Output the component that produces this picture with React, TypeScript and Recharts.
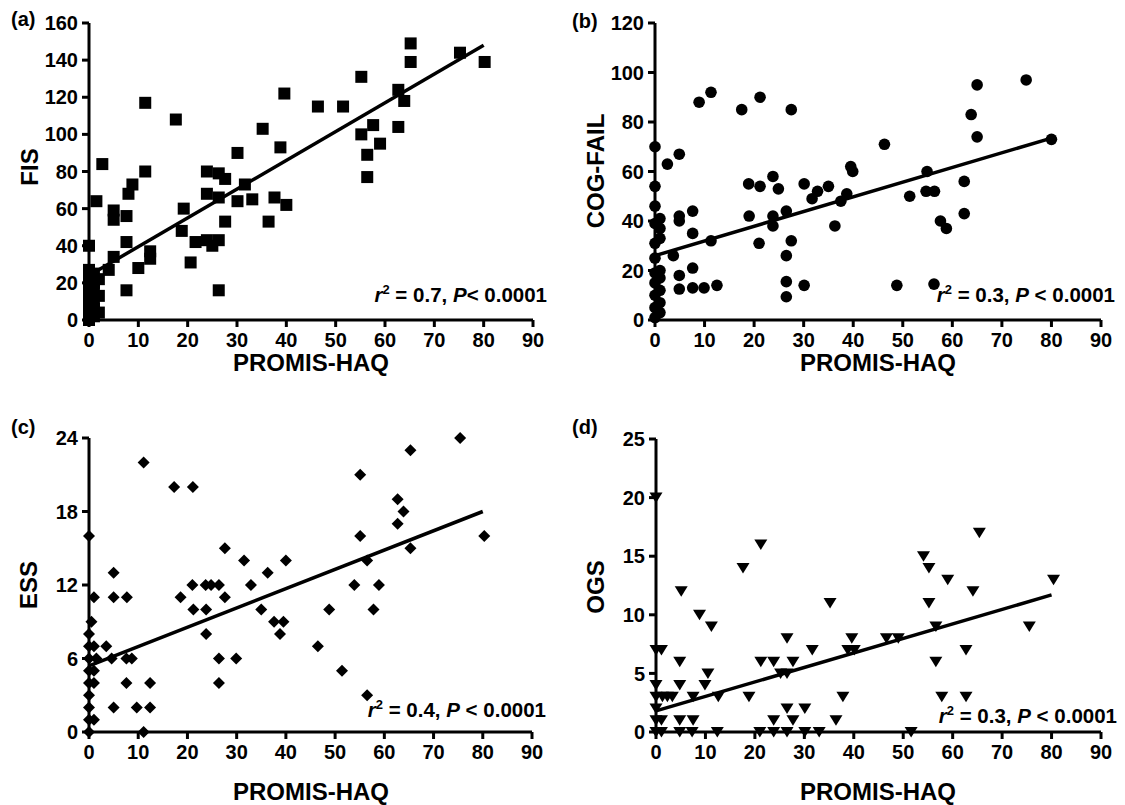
import React from 'react'
import { ScatterChart, Scatter, XAxis, YAxis, ReferenceLine } from 'recharts'

// PROMIS-HAQ (x) vs each outcome (y)
const xTicks = [0, 10, 20, 30, 40, 50, 60, 70, 80, 90]

const fisPoints = [
  [0, 40], [0, 27], [0, 24], [0, 21], [0, 18], [0, 15], [0, 12], [0, 9], [0, 6], [0, 3], [0, 0],
  [1, 25], [1, 20], [1, 16], [1, 10], [1, 6], [1, 2], [2, 22], [2, 13], [2, 4],
  [1.5, 64], [2.7, 84], [4, 27], [5, 34], [5, 59], [5, 54], [7.6, 56], [7.6, 42], [7.6, 16], [8, 68],
  [8.8, 73], [10, 28], [11.4, 117], [11.4, 80], [12.4, 37], [12.4, 33], [17.6, 108], [19.2, 60],
  [18.8, 48], [20.6, 31], [21.6, 42], [23.9, 43], [23.9, 80], [23.9, 68], [25, 40], [26.3, 43],
  [26.3, 79], [26.3, 66], [26.3, 16], [27.6, 76], [27.6, 53], [30.1, 90], [30.1, 64], [31.6, 73],
  [33.1, 65], [35.2, 103], [37.6, 66], [36.4, 53], [38.8, 93], [39.6, 122], [40, 62], [46.4, 115],
  [51.5, 115], [55.2, 131], [55.2, 100], [56.4, 89], [56.4, 77], [57.6, 105], [59, 95], [62.7, 104],
  [62.7, 124], [63.9, 118], [65.2, 149], [65.2, 139], [75.2, 144], [80.2, 139],
]

const cogPoints = [
  [0, 70], [0, 54], [0, 46], [1, 41], [0, 39], [1, 37], [1, 33], [0, 31], [0, 25], [1, 20], [0, 19],
  [1, 17], [0, 15], [1, 12], [0, 10], [1, 7], [0, 5], [1, 3], [0, 1],
  [2.5, 63], [4.9, 67], [3.7, 26], [4.9, 42], [4.9, 40], [7.6, 44], [7.6, 35], [7.6, 21], [4.9, 18],
  [4.9, 12.5], [7.6, 13], [9.9, 13], [12.5, 14], [11.3, 32], [8.9, 88], [11.3, 92], [17.5, 85],
  [21.2, 90], [27.5, 85], [18.9, 55], [21.2, 54], [23.8, 58], [24.9, 53], [19, 42], [23.8, 42],
  [23.8, 38], [21, 31], [26.5, 44], [27.5, 32], [26.5, 26], [26.5, 15.5], [26.5, 9.4], [30.1, 14],
  [30.1, 55], [31.7, 49], [32.8, 52], [35, 54], [36.3, 38], [37.5, 48], [38.7, 51], [39.5, 62],
  [39.9, 60], [46.3, 71], [48.8, 14], [51.4, 50], [54.9, 60], [54.7, 52], [56.4, 52], [56.3, 14.5],
  [57.6, 40], [58.8, 37], [62.4, 56], [62.4, 43], [63.8, 83], [65, 95], [65, 74], [74.9, 97], [80, 73],
]

const essPoints = [
  [0, 16], [0, 8], [0, 7], [0, 6], [0, 5], [0, 4], [0, 3], [0, 2], [0, 1], [0, 0],
  [1, 11], [0.5, 9], [1, 7], [1.5, 6], [1, 5], [1, 4], [1, 1], [3.5, 7],
  [5, 13], [5, 11], [7.7, 11], [4.6, 6], [7.6, 6], [8.7, 6], [7.6, 4], [12.4, 4], [5, 2], [9.7, 2],
  [12.4, 2], [11.1, 0], [11.1, 22], [17.3, 20], [21.1, 20], [18.6, 11], [21, 12], [23.7, 12],
  [24.8, 12], [26.4, 12], [27.6, 11], [27.6, 15], [21.2, 10], [23.8, 10], [23.8, 8], [26.4, 6],
  [26.4, 4], [29.9, 6], [31.5, 14], [32.9, 12], [35, 10], [36.3, 13], [37.6, 9], [39.5, 9], [38.8, 8],
  [40, 14], [46.5, 7], [48.8, 10], [51.4, 5], [53.9, 12], [55.1, 21], [55.1, 16], [56.5, 14],
  [56.5, 3], [57.8, 10], [58.9, 12], [62.7, 19], [62.7, 17], [63.9, 18], [65.3, 23], [65.3, 15],
  [75.4, 24], [80.3, 16],
]

const ogsPoints = [
  [0, 20], [0, 7], [1.1, 7], [0, 4], [0, 3], [1.3, 3], [2.3, 3], [3.3, 3], [0, 2], [0, 1], [1.1, 1],
  [0, 0], [1.1, 0], [5.1, 12], [8.8, 10], [11.2, 9], [4.8, 6], [4.8, 4], [9.9, 4], [10.5, 5],
  [7.5, 3], [12.6, 3], [4.8, 1], [7.5, 1], [4.8, 0], [7.3, 0], [12.4, 0], [17.6, 14], [21.2, 16],
  [18.8, 3], [21.2, 6], [23.8, 6], [27.7, 6], [25.2, 5], [26.5, 5], [26.5, 8], [31.6, 7], [26.5, 2],
  [30.1, 2], [23.8, 1], [27.7, 1], [21, 0], [23.8, 0], [26.5, 0], [30.1, 0], [33, 0], [35.2, 11],
  [36.4, 1], [37.8, 3], [39.6, 8], [38.8, 7], [40.1, 7], [46.6, 8], [49, 8], [51.6, 0], [54.1, 15],
  [55.2, 14], [55.2, 11], [56.6, 9], [56.6, 6], [57.8, 3], [59, 13], [62.7, 7], [62.7, 3], [64.1, 12],
  [65.4, 17], [75.5, 9], [80.4, 13],
]

// regression line end points
const fisFit = [[0, 24], [80, 148]]
const cogFit = [[0, 26], [80, 73.5]]
const essFit = [[0, 5.4], [80, 18]]
const ogsFit = [[0, 1.8], [80, 11.7]]

const fisTicks = [0, 20, 40, 60, 80, 100, 120, 140, 160]
const cogTicks = [0, 20, 40, 60, 80, 100, 120]
const essTicks = [0, 6, 12, 18, 24]
const ogsTicks = [0, 5, 10, 15, 20, 25]

const FONT = '"Liberation Sans", Arial, sans-serif'

const square = (p: any) => <rect x={p.cx - 6} y={p.cy - 6} width={12} height={12} fill="#000" />
const circle = (p: any) => <circle cx={p.cx} cy={p.cy} r={5.8} fill="#000" />
const diamond = (p: any) => (
  <polygon points={`${p.cx},${p.cy - 6} ${p.cx + 6},${p.cy} ${p.cx},${p.cy + 6} ${p.cx - 6},${p.cy}`} fill="#000" />
)
const triangle = (p: any) => (
  <polygon points={`${p.cx - 6.5},${p.cy - 5} ${p.cx + 6.5},${p.cy - 5} ${p.cx},${p.cy + 5.5}`} fill="#000" />
)

const tickStyle = { fill: '#000', fontSize: 20, fontWeight: 'bold', fontFamily: FONT }

function Panel(props: any) {
  const { left, top, width, height, margin, yWidth, xHeight, yTicks, points, shape, fit } = props
  const data = points.map(([x, y]: number[]) => ({ x, y }))
  return (
    <div style={{ position: 'absolute', left, top }}>
      <ScatterChart width={width} height={height} margin={margin}>
        <XAxis
          type="number"
          dataKey="x"
          domain={[0, 90]}
          ticks={xTicks}
          interval={0}
          height={xHeight}
          stroke="#000"
          axisLine={{ stroke: '#000', strokeWidth: 3 }}
          tickLine={{ stroke: '#000', strokeWidth: 3 }}
          tickSize={7}
          tickMargin={6}
          tick={tickStyle}
        />
        <YAxis
          type="number"
          dataKey="y"
          domain={[yTicks[0], yTicks[yTicks.length - 1]]}
          ticks={yTicks}
          interval={0}
          width={yWidth}
          stroke="#000"
          axisLine={{ stroke: '#000', strokeWidth: 3 }}
          tickLine={{ stroke: '#000', strokeWidth: 3 }}
          tickSize={7}
          tickMargin={4}
          tick={tickStyle}
        />
        <Scatter data={data} shape={shape} isAnimationActive={false} />
        <ReferenceLine
          segment={[{ x: fit[0][0], y: fit[0][1] }, { x: fit[1][0], y: fit[1][1] }]}
          stroke="#000"
          strokeWidth={3.5}
          ifOverflow="visible"
        />
      </ScatterChart>
    </div>
  )
}

function Stat({ x, y, r2, tight }: { x: number; y: number; r2: string; tight?: boolean }) {
  return (
    <text x={x} y={y} textAnchor="end" fontSize={20.5} fontWeight="bold">
      <tspan fontStyle="italic">r</tspan>
      <tspan dy={-8} fontSize={13}>2</tspan>
      <tspan dy={8}>{` = ${r2}, `}</tspan>
      <tspan fontStyle="italic">P</tspan>
      <tspan>{tight ? '< 0.0001' : ' < 0.0001'}</tspan>
    </text>
  )
}

export default function App() {
  return (
    <div style={{ position: 'absolute', left: 0, top: 0, width: 1125, height: 805, background: '#fff', fontFamily: FONT }}>
      <Panel left={0} top={0} width={560} height={400} margin={{ top: 23, right: 27, bottom: 0, left: 0 }}
        yWidth={89} xHeight={80} yTicks={fisTicks} points={fisPoints} shape={square} fit={fisFit} />
      <Panel left={560} top={0} width={565} height={400} margin={{ top: 23, right: 24, bottom: 0, left: 0 }}
        yWidth={95} xHeight={80} yTicks={cogTicks} points={cogPoints} shape={circle} fit={cogFit} />
      <Panel left={0} top={400} width={560} height={405} margin={{ top: 38, right: 28, bottom: 0, left: 0 }}
        yWidth={89} xHeight={73} yTicks={essTicks} points={essPoints} shape={diamond} fit={essFit} />
      <Panel left={560} top={400} width={565} height={405} margin={{ top: 39, right: 24, bottom: 0, left: 0 }}
        yWidth={96} xHeight={73} yTicks={ogsTicks} points={ogsPoints} shape={triangle} fit={ogsFit} />

      <svg width={1125} height={805} style={{ position: 'absolute', left: 0, top: 0, pointerEvents: 'none' }}
        fontFamily={FONT} fontWeight="bold" fill="#000">
        <text x={11} y={26} fontSize={20}>(a)</text>
        <text x={572} y={28} fontSize={20}>(b)</text>
        <text x={11} y={434} fontSize={20}>(c)</text>
        <text x={572} y={434} fontSize={20}>(d)</text>

        <text x={311} y={371} fontSize={24} textAnchor="middle">PROMIS-HAQ</text>
        <text x={878} y={371} fontSize={24} textAnchor="middle">PROMIS-HAQ</text>
        <text x={311} y={800} fontSize={24} textAnchor="middle">PROMIS-HAQ</text>
        <text x={878} y={800} fontSize={24} textAnchor="middle">PROMIS-HAQ</text>

        <text transform="translate(38,167) rotate(-90)" fontSize={24} textAnchor="middle">FIS</text>
        <text transform="translate(604,171) rotate(-90)" fontSize={24} textAnchor="middle">COG-FAIL</text>
        <text transform="translate(37,585) rotate(-90)" fontSize={24} textAnchor="middle">ESS</text>
        <text transform="translate(604,587) rotate(-90)" fontSize={24} textAnchor="middle">OGS</text>

        <Stat x={547} y={302} r2="0.7" tight />
        <Stat x={1115} y={302} r2="0.3" />
        <Stat x={546} y={717} r2="0.4" />
        <Stat x={1117} y={723} r2="0.3" />
      </svg>
    </div>
  )
}
